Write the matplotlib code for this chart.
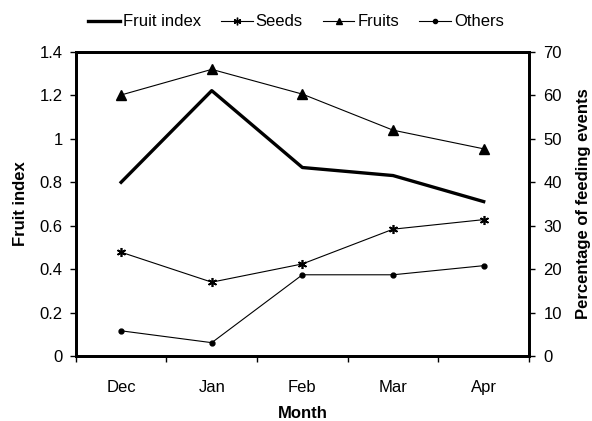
import matplotlib
matplotlib.use("Agg")
import matplotlib.pyplot as plt
from matplotlib.lines import Line2D

months = ["Dec", "Jan", "Feb", "Mar", "Apr"]
fruit_index = [0.80, 1.222, 0.868, 0.831, 0.711]
seeds = [23.9, 17.0, 21.2, 29.2, 31.4]
fruits = [60.1, 66.0, 60.3, 52.0, 47.7]
others = [5.8, 3.07, 18.7, 18.7, 20.8]

plt.rcParams['font.family'] = ['Liberation Sans', 'DejaVu Sans']

fig = plt.figure(figsize=(5.92, 4.21), dpi=100)
ax = fig.add_axes([0.128, 0.1544, 0.7656, 0.7221])
ax2 = ax.twinx()

x = list(range(len(months)))
ax.plot(x, fruit_index, color='black', lw=2.4, zorder=3)
ax2.plot(x, seeds, color='black', lw=0.8, marker=(6, 2, 0), ms=6.5, mew=1.2)
ax2.plot(x, fruits, color='black', lw=0.8, marker='^', ms=7)
ax2.plot(x, others, color='black', lw=0.8, marker='o', ms=3.5)

ax.set_xlim(-0.5, 4.5)
ax.set_ylim(0, 1.4)
ax2.set_ylim(0, 70)
ax.set_yticks([0, 0.2, 0.4, 0.6, 0.8, 1.0, 1.2, 1.4])
ax.set_yticklabels(["0", "0.2", "0.4", "0.6", "0.8", "1", "1.2", "1.4"])
ax2.set_yticks([0, 10, 20, 30, 40, 50, 60, 70])

ax.set_xticks([i - 0.5 for i in range(len(months) + 1)])
ax.set_xticklabels([])
ax.set_xticks(x, minor=True)
ax.set_xticklabels(months, minor=True)
ax.tick_params(axis='x', which='minor', length=0, pad=17, labelsize=12)
ax.tick_params(axis='x', which='major', direction='out', length=4.5, width=1)
ax.tick_params(axis='y', direction='out', length=4.5, width=1, labelsize=12, pad=5)
ax2.tick_params(axis='y', direction='out', length=4.5, width=1, labelsize=12, pad=6)

for a in (ax, ax2):
    for s in a.spines.values():
        s.set_linewidth(2)

ax.set_xlabel("Month", fontsize=12, fontweight='bold', labelpad=8)
ax.set_ylabel("Fruit index", fontsize=12, fontweight='bold', labelpad=8)
ax2.set_ylabel("Percentage of feeding events", fontsize=12, fontweight='bold', labelpad=10)

handles = [
    Line2D([], [], color='black', lw=2.4),
    Line2D([], [], color='black', lw=0.8, marker=(6, 2, 0), ms=5.5, mew=1.0),
    Line2D([], [], color='black', lw=0.8, marker='^', ms=5),
    Line2D([], [], color='black', lw=0.8, marker='o', ms=3),
]
fig.legend(handles, ["Fruit index", "Seeds", "Fruits", "Others"], loc='center',
           bbox_to_anchor=(0.5, 0.948), ncol=4, frameon=False, fontsize=12,
           handlelength=1.9, handletextpad=0.18, columnspacing=1.2)

fig.savefig("out.png", dpi=100)
